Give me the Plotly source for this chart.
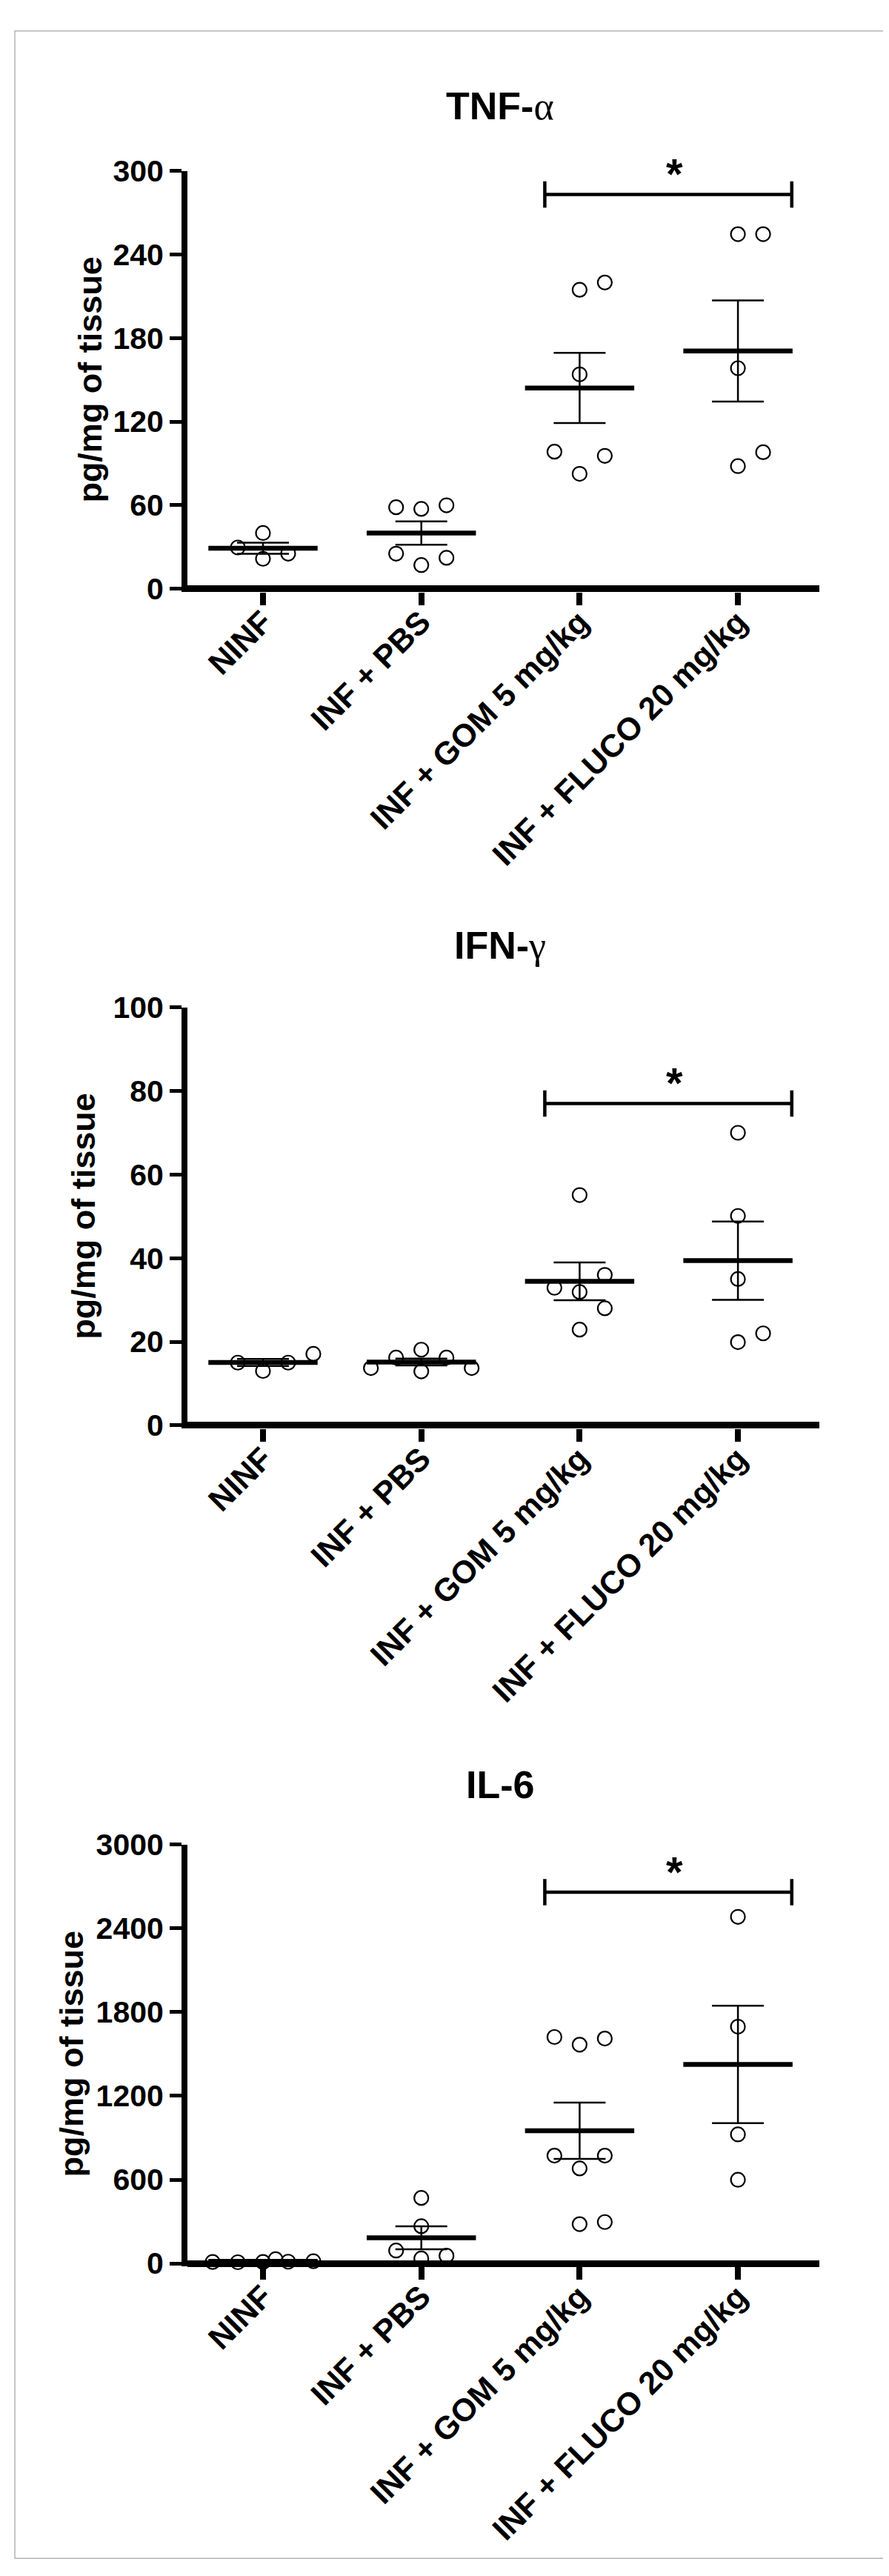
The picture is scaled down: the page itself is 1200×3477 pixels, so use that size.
import numpy as np
import plotly.graph_objects as go

# ---------------- data ----------------
categories = ["NINF", "INF + PBS", "INF + GOM 5 mg/kg", "INF + FLUCO 20 mg/kg"]

tnf_ninf = [40.0, 21.5, 25.2, 29.6]
tnf_pbs = [57.3, 59.9, 58.5, 17.0, 22.2, 25.2]
tnf_gom = [214.6, 219.8, 153.9, 82.5, 95.4, 98.4]
tnf_fluco = [254.5, 254.5, 158.3, 88.0, 98.0]

ifn_ninf = [13.0, 15.0, 15.0, 17.1]
ifn_pbs = [12.9, 16.2, 16.2, 13.7, 13.7, 18.1]
ifn_gom = [55.1, 31.9, 36.0, 32.9, 28.0, 22.9]
ifn_fluco = [70.0, 50.1, 35.0, 19.9, 22.0]

il6_ninf = [10, 12, 8, 15, 10, 30]
il6_pbs = [469, 266, 35, 55, 92]
il6_gom = [1567, 1611, 1622, 680, 772, 772, 281, 296]
il6_fluco = [2483, 1696, 924, 599]

panel_titles = ["TNF-", "IFN-", "IL-6"]
panel_greek = ["α", "γ", ""]
y_label = "pg/mg of tissue"
tnf_ticks = [0, 60, 120, 180, 240, 300]
ifn_ticks = [0, 20, 40, 60, 80, 100]
il6_ticks = [0, 600, 1200, 1800, 2400, 3000]
bracket_levels = [283, 77, 2660]

panels = [
    dict(groups=[tnf_ninf, tnf_pbs, tnf_gom, tnf_fluco], ticks=tnf_ticks,
         top_px=202, zero_px=773, title_px=113, ylab_px=114),
    dict(groups=[ifn_ninf, ifn_pbs, ifn_gom, ifn_fluco], ticks=ifn_ticks,
         top_px=1345, zero_px=1916, title_px=1260, ylab_px=105),
    dict(groups=[il6_ninf, il6_pbs, il6_gom, il6_fluco], ticks=il6_ticks,
         top_px=2489, zero_px=3061, title_px=2407, ylab_px=88),
]

# ---------------- layout constants ----------------
W, H = 1200, 3477
X_LEFT, X_RIGHT = 245, 1098        # plot area (px)
CAT0_PX, CAT_STEP_PX = 347, 213.7  # category 0 position & spacing
XLINE_W = 9
FONT = "Liberation Sans, Arial, Helvetica, sans-serif"
SERIF = "Liberation Serif"

x_range = [(X_LEFT - CAT0_PX) / CAT_STEP_PX, (X_RIGHT - CAT0_PX) / CAT_STEP_PX]


def px2paper_y(p):
    return 1 - p / H


def px2paper_x(p):
    return p / W


def swarm(values, px_per_unit, step_px=17.0, min_dist=32.0):
    """Simple column-scatter layout: spread points that would collide."""
    order = [0, 2, -2, 1, -1, 3, -3, 4, -4]
    placed = []
    offs = []
    for v in values:
        y = v * px_per_unit
        chosen, best, best_d = None, 0, -1.0
        for k in order:
            x = k * step_px
            d = min([np.hypot(x - a, y - b) for a, b in placed], default=1e9)
            if d >= min_dist:
                chosen = k
                break
            if d > best_d + 1.0:
                best_d, best = d, k
        if chosen is None:
            chosen = best
        placed.append((chosen * step_px, y))
        offs.append(chosen * step_px / CAT_STEP_PX)
    return offs


fig = go.Figure()
layout_axes = {}
annotations = []

for pi, p in enumerate(panels):
    sfx = "" if pi == 0 else str(pi + 1)
    xa, ya = "x" + sfx, "y" + sfx
    ymax = p["ticks"][-1]
    ppu = (p["zero_px"] - p["top_px"]) / ymax
    ymin = -(XLINE_W / 2) / ppu
    bottom_px = p["zero_px"] + XLINE_W / 2

    means, sems = [], []
    for gi, vals in enumerate(p["groups"]):
        arr = np.array(vals, dtype=float)
        means.append(arr.mean())
        sems.append(arr.std(ddof=1) / np.sqrt(len(arr)))
        offs = swarm(vals, ppu)
        fig.add_trace(go.Scatter(
            x=[gi + o for o in offs], y=vals, mode="markers",
            marker=dict(symbol="circle-open", size=19, color="black",
                        line=dict(width=2.2, color="black")),
            xaxis=xa, yaxis=ya, cliponaxis=False, showlegend=False, hoverinfo="y"))

    # mean lines
    mx, my = [], []
    for gi, m in enumerate(means):
        mx += [gi - 0.345, gi + 0.345, None]
        my += [m, m, None]
    fig.add_trace(go.Scatter(x=mx, y=my, mode="lines", line=dict(color="black", width=6.5),
                             xaxis=xa, yaxis=ya, cliponaxis=False, showlegend=False,
                             hoverinfo="skip"))
    # SEM error bars
    fig.add_trace(go.Scatter(
        x=list(range(len(means))), y=means, mode="markers",
        marker=dict(size=1, color="rgba(0,0,0,0)"),
        error_y=dict(type="data", array=sems, visible=True, color="black",
                     thickness=2.5, width=35),
        xaxis=xa, yaxis=ya, cliponaxis=False, showlegend=False, hoverinfo="skip"))

    # significance bracket
    lvl = bracket_levels[pi]
    dt = 18 / ppu
    bx0, bx1 = 1.78, 3.34
    fig.add_trace(go.Scatter(
        x=[bx0, bx0, None, bx0, bx1, None, bx1, bx1],
        y=[lvl - dt, lvl + dt, None, lvl, lvl, None, lvl - dt, lvl + dt],
        mode="lines", line=dict(color="black", width=4.5), xaxis=xa, yaxis=ya,
        cliponaxis=False, showlegend=False, hoverinfo="skip"))
    annotations.append(dict(
        x=2.6, y=lvl + 28 / ppu, xref=xa, yref=ya, text="<b>*</b>", showarrow=False,
        font=dict(family=FONT, size=58, color="black"), xanchor="center", yanchor="middle"))

    # titles
    title_txt = "<b>" + panel_titles[pi] + "</b>"
    if panel_greek[pi]:
        title_txt += '<span style="font-family:%s">%s</span>' % (SERIF, panel_greek[pi])
    annotations.append(dict(
        x=px2paper_x(667), y=px2paper_y(p["title_px"]), xref="paper", yref="paper",
        text=title_txt, showarrow=False, font=dict(family=FONT, size=52, color="black"),
        xanchor="center", yanchor="middle"))
    annotations.append(dict(
        x=px2paper_x(p["ylab_px"]), y=px2paper_y((p["top_px"] + p["zero_px"]) / 2),
        xref="paper", yref="paper",
        text="<b>" + y_label + "</b>", showarrow=False, textangle=-90,
        font=dict(family=FONT, size=45, color="black"), xanchor="center", yanchor="middle"))

    xkey = "xaxis" + sfx
    ykey = "yaxis" + sfx
    layout_axes[xkey] = dict(
        domain=[px2paper_x(X_LEFT), px2paper_x(X_RIGHT)], range=x_range, anchor=ya,
        tickmode="array", tickvals=list(range(len(categories))), ticktext=categories,
        tickangle=-45, ticks="outside", ticklen=17, tickwidth=8, tickcolor="black",
        ticklabelstandoff=-20,
        showline=False, showgrid=False, zeroline=False,
        tickfont=dict(family=FONT, size=43, color="black", weight="bold"), fixedrange=True)
    layout_axes[ykey] = dict(
        domain=[px2paper_y(bottom_px), px2paper_y(p["top_px"])], range=[ymin, ymax], anchor=xa,
        tickmode="array", tickvals=p["ticks"], ticks="outside", ticklen=16, tickwidth=4.5,
        tickcolor="black", showline=True, linewidth=8, linecolor="black",
        zeroline=True, zerolinewidth=XLINE_W, zerolinecolor="black", showgrid=False,
        tickfont=dict(family=FONT, size=41, color="black", weight="bold"), fixedrange=True)

fig.update_layout(
    width=W, height=H, autosize=False,
    margin=dict(l=0, r=0, t=0, b=0),
    paper_bgcolor="white", plot_bgcolor="white",
    showlegend=False, annotations=annotations,
    shapes=[dict(type="rect", xref="paper", yref="paper",
                 x0=px2paper_x(12), x1=px2paper_x(1186), y0=px2paper_y(3464), y1=px2paper_y(11),
                 line=dict(color="#b4b4b4", width=1.5), fillcolor="rgba(0,0,0,0)", layer="below")],
    **layout_axes,
)

fig.write_html("out.html")
